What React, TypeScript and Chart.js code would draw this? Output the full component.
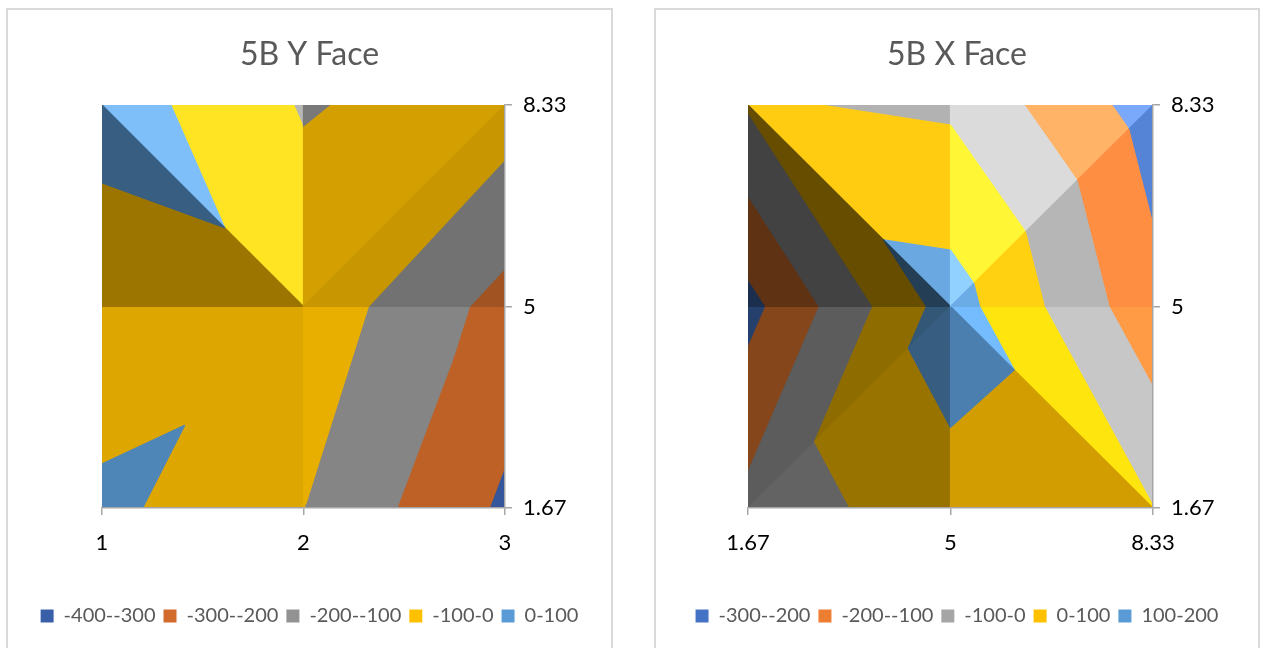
import { useEffect, useRef } from 'react';
import { Chart, registerables } from 'chart.js';

Chart.register(...registerables);
Chart.defaults.font.family = 'Lato, "Open Sans", sans-serif';

// ---- 5B Y Face: surface values on a 3 x 3 grid ----
const Y_FACE_X = [1, 2, 3];
const Y_FACE_Y = [1.67, 5, 8.33];
const Y_FACE_ROW_167 = [25, -99, -317];
const Y_FACE_ROW_5 = [-89, -36, -235];
const Y_FACE_ROW_833 = [56, -108, -50];
const Y_FACE_X_TICKS = ['1', '2', '3'];
const Y_FACE_Y_TICKS = ['1.67', '5', '8.33'];
const Y_FACE_LEVELS = [-400, -300, -200, -100, 0, 100];
const Y_FACE_BANDS = ['-400--300', '-300--200', '-200--100', '-100-0', '0-100'];

// ---- 5B X Face ----
const X_FACE_X = [1.67, 5, 8.33];
const X_FACE_Y = [1.67, 5, 8.33];
const X_FACE_ROW_167 = [-71, 70, 2];
const X_FACE_ROW_5 = [-233, 145, -168];
const X_FACE_ROW_833 = [9, -16, -247];
const X_FACE_X_TICKS = ['1.67', '5', '8.33'];
const X_FACE_Y_TICKS = ['1.67', '5', '8.33'];
const X_FACE_LEVELS = [-300, -200, -100, 0, 100, 200];
const X_FACE_BANDS = ['-300--200', '-200--100', '-100-0', '0-100', '100-200'];

// ---- styling ----
const Y_FACE_COLORS = ['#3A5FA9', '#D06B2B', '#929292', '#FFC000', '#5B9BD5'];
const X_FACE_COLORS = ['#4472C4', '#ED7D31', '#A5A5A5', '#FFC000', '#5B9BD5'];

// How each grid cell is split into two facets, [row][col] from the bottom row:
// '/' joins bottom-left to top-right, '\\' joins top-left to bottom-right.
const Y_FACE_SPLIT = [
  ['/', '/'],
  ['\\', '/'],
];
const X_FACE_SPLIT = [
  ['/', '\\'],
  ['\\', '/'],
];

// Facet lighting per cell [row][col] -> [facet above diagonal, facet below],
// each as [gain, lift] applied to the band colour.
const Y_FACE_LIGHT = [
  [[[0.865, 0], [0.865, 0]], [[0.91, 0], [0.91, 0]]],
  [[[1.0, 36], [0.61, 0]], [[0.83, 0], [0.78, 0]]],
];
const X_FACE_LIGHT = [
  [[[0.56, 0], [0.6, 0]], [[1.12, 14], [0.82, 0]]],
  [[[0.97, 18], [0.4, 0]], [[1.0, 54], [1.0, 17]]],
];

type P = { x: number; y: number; z: number };

function clip(poly: P[], level: number, keepAbove: boolean): P[] {
  const out: P[] = [];
  const inside = (p: P) => (keepAbove ? p.z >= level : p.z <= level);
  for (let i = 0; i < poly.length; i++) {
    const a = poly[i];
    const b = poly[(i + 1) % poly.length];
    const ia = inside(a);
    const ib = inside(b);
    if (ia) out.push(a);
    if (ia !== ib) {
      const t = (level - a.z) / (b.z - a.z);
      out.push({ x: a.x + t * (b.x - a.x), y: a.y + t * (b.y - a.y), z: level });
    }
  }
  return out;
}

function shade(hex: string, gain: number, lift: number) {
  const n = parseInt(hex.slice(1), 16);
  const ch = [(n >> 16) & 255, (n >> 8) & 255, n & 255].map((c) =>
    Math.round(Math.min(255, c * gain + lift))
  );
  return `rgb(${ch[0]},${ch[1]},${ch[2]})`;
}

type Face = {
  title: string;
  xs: number[];
  ys: number[];
  rows: number[][];
  levels: number[];
  bands: string[];
  colors: string[];
  split: string[][];
  light: number[][][][];
  xTicks: string[];
  yTicks: string[];
  leftWidth: number;
  rightWidth: number;
};

// Fills the banded surface: every cell is cut into two facets, and each facet
// is clipped between consecutive band levels.
function surfacePlugin(face: Face) {
  return {
    id: 'surface',
    beforeDraw(chart: any) {
      const { xs, ys, rows, levels, colors, light, split } = face;
      const sx = chart.scales.x;
      const sy = chart.scales.y;
      const area = chart.chartArea;
      const ctx = chart.ctx as CanvasRenderingContext2D;
      ctx.save();
      ctx.beginPath();
      ctx.rect(area.left, area.top, area.right - area.left, area.bottom - area.top);
      ctx.clip();
      ctx.lineJoin = 'round';
      ctx.lineWidth = 1.2;
      const node = (i: number, j: number): P => ({ x: xs[i], y: ys[j], z: rows[j][i] });
      for (let cj = 0; cj < ys.length - 1; cj++) {
        for (let ci = 0; ci < xs.length - 1; ci++) {
          const BL = node(ci, cj);
          const BR = node(ci + 1, cj);
          const TL = node(ci, cj + 1);
          const TR = node(ci + 1, cj + 1);
          const tris =
            split[cj][ci] === '/'
              ? [[BL, TL, TR], [BL, BR, TR]]
              : [[TL, TR, BR], [TL, BL, BR]];
          tris.forEach((tri, k) => {
            const [gain, lift] = light[cj][ci][k];
            for (let b = 0; b < levels.length - 1; b++) {
              let poly = clip(tri, levels[b], true);
              if (poly.length < 3) continue;
              poly = clip(poly, levels[b + 1], false);
              if (poly.length < 3) continue;
              const col = shade(colors[b], gain, lift);
              ctx.fillStyle = col;
              ctx.strokeStyle = col;
              ctx.beginPath();
              poly.forEach((p, i) => {
                const px = sx.getPixelForValue(p.x);
                const py = sy.getPixelForValue(p.y);
                if (i === 0) ctx.moveTo(px, py);
                else ctx.lineTo(px, py);
              });
              ctx.closePath();
              ctx.fill();
              ctx.stroke();
            }
          });
        }
      }
      ctx.restore();
    },
  };
}

const AXIS_GREY = '#A6A6A6';

function FaceChart({ face, width, height }: { face: Face; width: number; height: number }) {
  const ref = useRef<HTMLCanvasElement | null>(null);
  useEffect(() => {
    if (!ref.current) return;
    const { xs, ys, xTicks, yTicks } = face;
    const chart = new Chart(ref.current, {
      type: 'scatter',
      data: {
        datasets: face.bands.map((label, i) => ({
          label,
          data: [],
          backgroundColor: face.colors[i],
          borderColor: face.colors[i],
          borderWidth: 0,
        })),
      },
      options: {
        animation: false,
        responsive: false,
        maintainAspectRatio: false,
        devicePixelRatio: 1,
        events: [],
        layout: { padding: { left: 0, right: 0, top: 0, bottom: 14 } },
        plugins: {
          title: {
            display: true,
            text: face.title,
            color: '#595959',
            font: { size: 32, weight: 'normal' },
            padding: { top: 25, bottom: 31.6 },
          },
          legend: {
            position: 'bottom',
            labels: {
              boxWidth: 13,
              boxHeight: 13,
              padding: 8,
              color: '#595959',
              font: { size: 20 },
            },
          },
          tooltip: { enabled: false },
        },
        scales: {
          x: {
            type: 'linear',
            position: 'bottom',
            min: xs[0],
            max: xs[xs.length - 1],
            afterBuildTicks: (s: any) => {
              s.ticks = xs.map((v) => ({ value: v }));
            },
            afterFit: (s: any) => {
              s.height = 90;
            },
            ticks: {
              callback: (_v: any, i: number) => xTicks[i],
              color: '#000',
              font: { size: 22 },
              padding: 15,
              autoSkip: false,
              maxRotation: 0,
            },
            grid: {
              display: true,
              drawOnChartArea: false,
              drawTicks: true,
              tickLength: 7,
              color: AXIS_GREY,
              lineWidth: 1.5,
            },
            border: { display: true, color: AXIS_GREY, width: 1.5 },
          },
          y: {
            type: 'linear',
            position: 'right',
            min: ys[0],
            max: ys[ys.length - 1],
            afterBuildTicks: (s: any) => {
              s.ticks = ys.map((v) => ({ value: v }));
            },
            afterFit: (s: any) => {
              s.width = face.rightWidth;
            },
            ticks: {
              callback: (_v: any, i: number) => yTicks[i],
              color: '#000',
              font: { size: 22 },
              padding: 11,
              autoSkip: false,
            },
            grid: {
              display: true,
              drawOnChartArea: false,
              drawTicks: true,
              tickLength: 7,
              color: AXIS_GREY,
              lineWidth: 1.5,
            },
            border: { display: true, color: AXIS_GREY, width: 1.5 },
          },
          side: {
            type: 'linear',
            position: 'left',
            min: 0,
            max: 1,
            ticks: { display: false },
            grid: { display: false },
            border: { display: false },
            afterFit: (s: any) => {
              s.width = face.leftWidth;
            },
          },
        },
      } as any,
      plugins: [surfacePlugin(face)],
    });
    return () => chart.destroy();
  }, [face]);
  return <canvas ref={ref} width={width} height={height} style={{ display: 'block', width, height }} />;
}

const Y_FACE: Face = {
  title: '5B Y Face',
  xs: Y_FACE_X,
  ys: Y_FACE_Y,
  rows: [Y_FACE_ROW_167, Y_FACE_ROW_5, Y_FACE_ROW_833],
  levels: Y_FACE_LEVELS,
  bands: Y_FACE_BANDS,
  colors: Y_FACE_COLORS,
  split: Y_FACE_SPLIT,
  light: Y_FACE_LIGHT,
  xTicks: Y_FACE_X_TICKS,
  yTicks: Y_FACE_Y_TICKS,
  leftWidth: 94,
  rightWidth: 106,
};

const X_FACE: Face = {
  title: '5B X Face',
  xs: X_FACE_X,
  ys: X_FACE_Y,
  rows: [X_FACE_ROW_167, X_FACE_ROW_5, X_FACE_ROW_833],
  levels: X_FACE_LEVELS,
  bands: X_FACE_BANDS,
  colors: X_FACE_COLORS,
  split: X_FACE_SPLIT,
  light: X_FACE_LIGHT,
  xTicks: X_FACE_X_TICKS,
  yTicks: X_FACE_Y_TICKS,
  leftWidth: 92,
  rightWidth: 105,
};

const boxStyle = (left: number, width: number): React.CSSProperties => ({
  position: 'absolute',
  left,
  top: 8,
  width,
  height: 640,
  border: '2px solid #D9D9D9',
  background: '#fff',
});

export default function App() {
  return (
    <div style={{ position: 'fixed', left: 0, top: 0, right: 0, bottom: 0, overflow: 'hidden', background: '#fff' }}>
      <div style={boxStyle(6, 603)}>
        <FaceChart face={Y_FACE} width={603} height={640} />
      </div>
      <div style={boxStyle(654, 602)}>
        <FaceChart face={X_FACE} width={602} height={640} />
      </div>
    </div>
  );
}
